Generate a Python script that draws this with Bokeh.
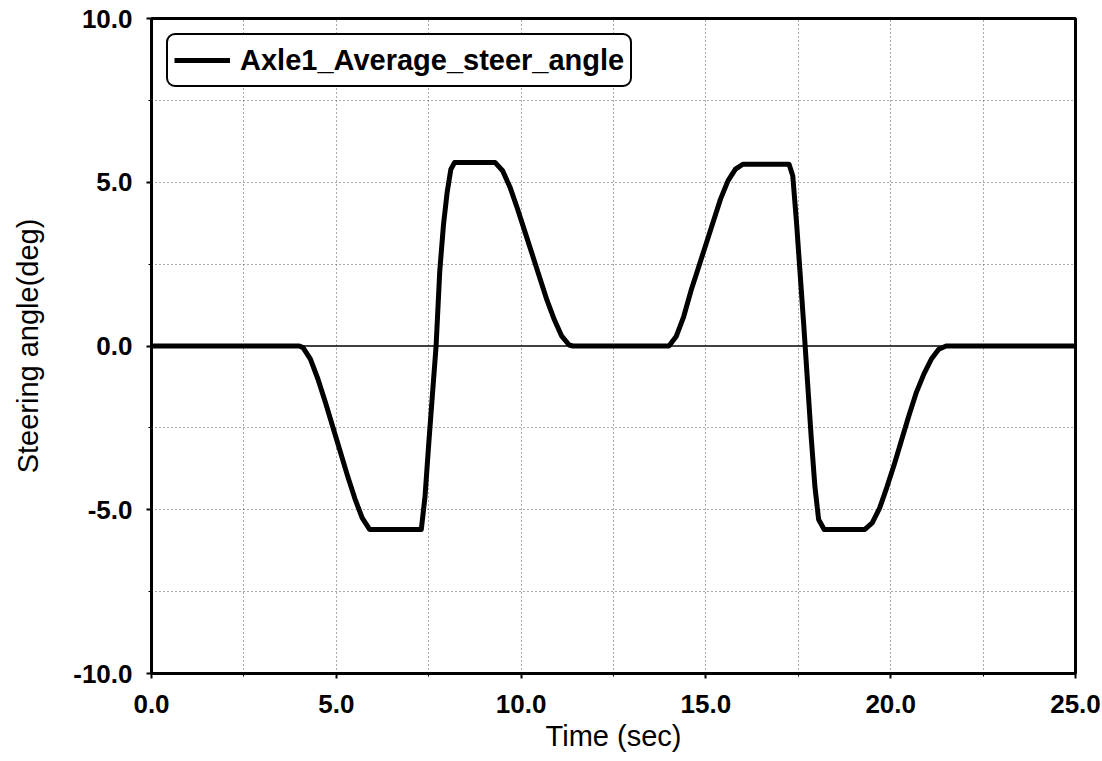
from bokeh.plotting import figure
from bokeh.models import Range1d, FixedTicker, Span, Legend, LegendItem
from bokeh.embed import file_html
from bokeh.resources import INLINE

# ---- data ----
time_s = [0.0, 4.0, 4.1, 4.3, 4.5, 4.7, 4.9, 5.1, 5.3, 5.5, 5.7, 5.9,
          7.3, 7.4, 7.5, 7.6, 7.7, 7.8, 7.9, 8.0, 8.1, 8.2,
          9.3, 9.5, 9.7, 9.9, 10.1, 10.3, 10.5, 10.7, 10.9, 11.1, 11.3, 11.4,
          14.0, 14.2, 14.4, 14.6, 14.8, 15.0, 15.2, 15.4, 15.6, 15.8, 16.0,
          17.25, 17.35, 17.45, 17.55, 17.65, 17.75, 17.85, 17.95, 18.05, 18.2,
          19.3, 19.5, 19.7, 19.9, 20.1, 20.3, 20.5, 20.7, 20.9, 21.1, 21.3, 21.5,
          25.0]
steer_deg = [0.0, 0.0, -0.05, -0.4, -1.0, -1.7, -2.45, -3.2, -3.95, -4.65, -5.25, -5.6,
             -5.6, -4.6, -3.0, -1.5, 0.0, 2.3, 3.7, 4.7, 5.4, 5.6,
             5.6, 5.35, 4.85, 4.2, 3.5, 2.8, 2.1, 1.4, 0.8, 0.3, 0.03, 0.0,
             0.0, 0.3, 0.9, 1.7, 2.4, 3.1, 3.8, 4.5, 5.05, 5.4, 5.55,
             5.55, 5.2, 3.8, 2.2, 0.6, -1.1, -2.8, -4.3, -5.3, -5.6,
             -5.6, -5.4, -4.95, -4.3, -3.6, -2.85, -2.1, -1.4, -0.85, -0.4, -0.1, 0.0,
             0.0]
series_name = "Axle1_Average_steer_angle"

x_ticks = [0, 5, 10, 15, 20, 25]
x_tick_labels = ["0.0", "5.0", "10.0", "15.0", "20.0", "25.0"]
y_ticks = [-10, -5, 0, 5, 10]
y_tick_labels = ["-10.0", "-5.0", "0.0", "5.0", "10.0"]
x_grid = [2.5, 5, 7.5, 10, 12.5, 15, 17.5, 20, 22.5]
y_grid = [-7.5, -5, -2.5, 2.5, 5, 7.5]
x_minor = [2.5, 7.5, 12.5, 17.5, 22.5]
y_minor = [-7.5, -2.5, 2.5, 7.5]

FONT = "Liberation Sans"

p = figure(width=1102, height=761, output_backend="svg", toolbar_location=None,
           x_range=Range1d(0, 25), y_range=Range1d(-10, 10),
           min_border_left=151, min_border_right=27, min_border_top=18, min_border_bottom=88,
           background_fill_color="white", border_fill_color="white")

p.outline_line_color = "black"
p.outline_line_width = 3

# grids
p.xgrid.ticker = FixedTicker(ticks=x_grid)
p.ygrid.ticker = FixedTicker(ticks=y_grid)
for g in (p.xgrid, p.ygrid):
    g.grid_line_color = "#555555"
    g.grid_line_dash = "1 3"
    g.grid_line_width = 1

# axes
p.xaxis.ticker = FixedTicker(ticks=x_ticks, minor_ticks=x_minor)
p.yaxis.ticker = FixedTicker(ticks=y_ticks, minor_ticks=y_minor)
p.xaxis.major_label_overrides = {t: l for t, l in zip(x_ticks, x_tick_labels)}
p.yaxis.major_label_overrides = {t: l for t, l in zip(y_ticks, y_tick_labels)}
p.xaxis.axis_label = "Time (sec)"
p.yaxis.axis_label = "Steering angle(deg)"
for ax in (p.xaxis, p.yaxis):
    ax.axis_line_color = "black"
    ax.axis_line_width = 3
    ax.major_tick_line_color = "black"
    ax.major_tick_line_width = 2
    ax.major_tick_out = 5
    ax.major_tick_in = 0
    ax.minor_tick_line_color = "black"
    ax.minor_tick_line_width = 1
    ax.minor_tick_out = 3
    ax.minor_tick_in = 0
    ax.major_label_text_font = FONT
    ax.major_label_text_font_size = "26px"
    ax.major_label_text_font_style = "bold"
    ax.major_label_text_color = "black"
    ax.axis_label_text_font = FONT
    ax.axis_label_text_font_size = "29px"
    ax.axis_label_text_font_style = "normal"
    ax.axis_label_text_color = "black"
p.xaxis.major_label_standoff = 16
p.xaxis.axis_label_standoff = 4
p.yaxis.major_label_standoff = 14
p.yaxis.axis_label_standoff = 26

# zero line
p.add_layout(Span(location=0, dimension="width", line_color="black", line_width=1.5))

r = p.line(time_s, steer_deg, line_color="black", line_width=5, line_join="round")

legend = Legend(items=[LegendItem(label=series_name, renderers=[r])],
                location=(15, 586), padding=6, margin=0, spacing=0,
                glyph_width=56, glyph_height=38, label_standoff=10,
                label_text_font=FONT, label_text_font_size="29px",
                label_text_font_style="bold", label_text_color="black",
                border_line_color="black", border_line_width=2.5, border_line_alpha=1.0,
                background_fill_color="white", background_fill_alpha=1.0)
try:
    legend.border_radius = 9
except Exception:
    pass
p.add_layout(legend, "center")

open("out.html", "w").write(file_html(p, INLINE))
